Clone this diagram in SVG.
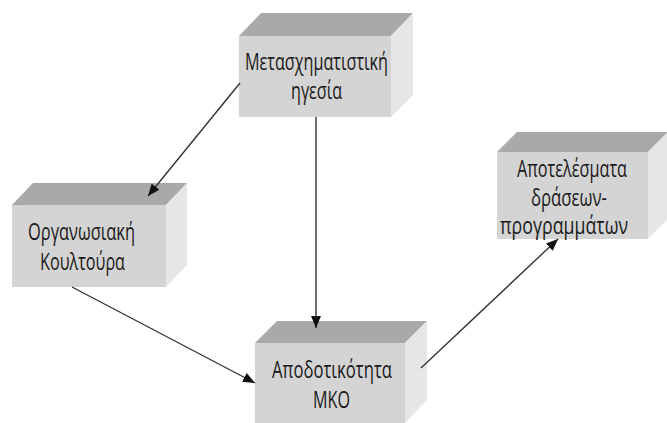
<svg xmlns="http://www.w3.org/2000/svg" width="667" height="423" viewBox="0 0 667 423">
<defs>
<style>
.front{fill:#d4d4d4}
.top{fill:#a9a9a9}
.side{fill:#e6e6e6}
.lbl{font-family:"Open Sans","Noto Sans","DejaVu Sans",sans-serif;font-size:23px;fill:#1a1a1a}
.edge{stroke:#333;stroke-width:1.4;fill:none;marker-end:url(#ah)}
</style>
<marker id="ah" viewBox="0 0 12 10" refX="12" refY="5" markerWidth="12" markerHeight="10" markerUnits="userSpaceOnUse" orient="auto">
<path d="M0,0 L12,5 L0,10 Z" fill="#111"/>
</marker>
</defs>
<rect width="667" height="423" fill="#fff"/>
<g id="n1">
<polygon class="top" points="239,36 261,13 413,13 391,36"/>
<polygon class="side" points="391,36 413,13 413,95 391,117"/>
<rect class="front" x="239" y="36" width="152" height="81"/>
<text class="lbl" x="245" y="70" textLength="143" lengthAdjust="spacingAndGlyphs">Μετασχηματιστική</text>
<text class="lbl" x="291" y="99" textLength="51" lengthAdjust="spacingAndGlyphs">ηγεσία</text>
</g>
<g id="n2">
<polygon class="top" points="12,205 33,183 187,183 166,205"/>
<polygon class="side" points="166,205 187,183 187,265 166,287"/>
<rect class="front" x="12" y="205" width="154" height="82"/>
<text class="lbl" x="28" y="240" textLength="107" lengthAdjust="spacingAndGlyphs">Οργανωσιακή</text>
<text class="lbl" x="40" y="270" textLength="85" lengthAdjust="spacingAndGlyphs">Κουλτούρα</text>
</g>
<g id="n3">
<polygon class="top" points="255,343 277,321 427,321 405,343"/>
<polygon class="side" points="405,343 427,321 427,400 405,423"/>
<rect class="front" x="255" y="343" width="150" height="80"/>
<text class="lbl" x="272" y="378" textLength="120" lengthAdjust="spacingAndGlyphs">Αποδοτικότητα</text>
<text class="lbl" x="313" y="408" textLength="37" lengthAdjust="spacingAndGlyphs">ΜΚΟ</text>
</g>
<g id="n4">
<polygon class="top" points="497,152 517,132 668,132 648,152"/>
<polygon class="side" points="648,152 668,132 668,219 648,239"/>
<rect class="front" x="497" y="152" width="151" height="87"/>
<text class="lbl" x="517" y="177" textLength="110" lengthAdjust="spacingAndGlyphs">Αποτελέσματα</text>
<text class="lbl" x="531" y="206" textLength="76" lengthAdjust="spacingAndGlyphs">δράσεων-</text>
<text class="lbl" x="500" y="234" textLength="128" lengthAdjust="spacingAndGlyphs">προγραμμάτων</text>
</g>
<g id="connectors">
<line class="edge" x1="240" y1="83" x2="148" y2="196"/>
<line class="edge" x1="316" y1="117" x2="316" y2="328"/>
<line class="edge" x1="72" y1="287" x2="255" y2="383"/>
<line class="edge" x1="421" y1="368" x2="558" y2="239"/>
</g>
</svg>
